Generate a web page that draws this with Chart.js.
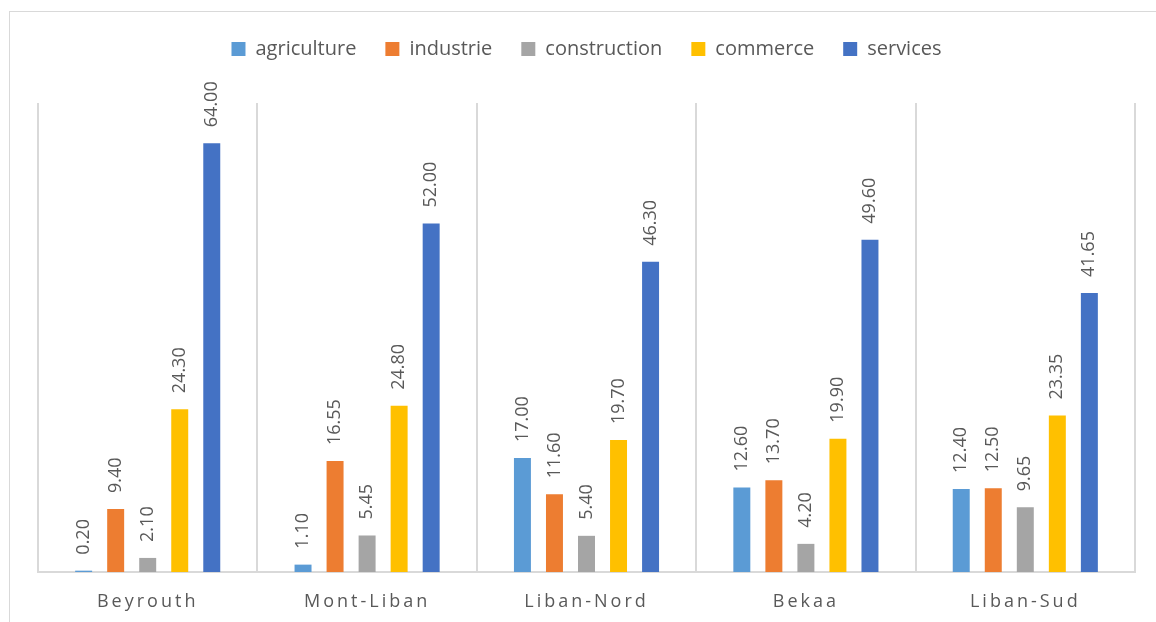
<!DOCTYPE html>
<html>
<head>
<meta charset="utf-8">
<script src="https://cdn.jsdelivr.net/npm/chart.js@4.4.0/dist/chart.umd.min.js"></script>
<style>
  html, body { margin: 0; padding: 0; background: #fff; overflow: hidden; }
  #frame { position: absolute; left: 9px; top: 11px; width: 1200px; height: 700px; border: 1px solid #d9d9d9; }
  #myChart { position: absolute; left: 0; top: 0; }
</style>
</head>
<body>
<div id="frame"></div>
<canvas id="myChart" width="1156" height="622"></canvas>
<script>
var regions = ['Beyrouth', 'Mont-Liban', 'Liban-Nord', 'Bekaa', 'Liban-Sud'];
var agriculture = [0.20, 1.10, 17.00, 12.60, 12.40];
var industrie = [9.40, 16.55, 11.60, 13.70, 12.50];
var construction = [2.10, 5.45, 5.40, 4.20, 9.65];
var commerce = [24.30, 24.80, 19.70, 19.90, 23.35];
var services = [64.00, 52.00, 46.30, 49.60, 41.65];
var yMin = 0;
var yMax = 70;

Chart.defaults.font.family = '"Open Sans", sans-serif';
Chart.defaults.color = '#595959';

// values above bars, rotated; also turns on letter spacing for the x labels drawn after
var valueLabels = {
  id: 'valueLabels',
  beforeLayout: function(chart) {
    // extra room under the legend
    var legend = chart.legend;
    if (legend && !legend._padded) {
      var fit = legend.fit;
      legend.fit = function() {
        fit.call(this);
        this.height += 34;
      };
      legend._padded = true;
    }
  },
  afterDatasetsDraw: function(chart) {
    var ctx = chart.ctx;
    ctx.save();
    ctx.font = '18px "Open Sans"';
    ctx.fillStyle = '#595959';
    ctx.textAlign = 'left';
    ctx.textBaseline = 'middle';
    chart.data.datasets.forEach(function(ds, i) {
      chart.getDatasetMeta(i).data.forEach(function(bar, j) {
        ctx.save();
        ctx.translate(bar.x, bar.y - 16);
        ctx.rotate(-Math.PI / 2);
        ctx.fillText(ds.data[j].toFixed(2), 0, 0);
        ctx.restore();
      });
    });
    ctx.restore();
    ctx.letterSpacing = '3px';
  },
  afterDraw: function(chart) {
    chart.ctx.letterSpacing = '0px';
  }
};

var ctx = document.getElementById('myChart');

var myChart = new Chart(ctx, {
  type: 'bar',
  data: {
    labels: regions,
    datasets: [
      { label: 'agriculture', data: agriculture, backgroundColor: '#5B9BD5' },
      { label: 'industrie', data: industrie, backgroundColor: '#ED7D31' },
      { label: 'construction', data: construction, backgroundColor: '#A5A5A5' },
      { label: 'commerce', data: commerce, backgroundColor: '#FFC000' },
      { label: 'services', data: services, backgroundColor: '#4472C4' }
    ]
  },
  options: {
    responsive: false,
    animation: false,
    categoryPercentage: 0.73,
    barPercentage: 0.53,
    layout: { padding: { left: 38, right: 21, top: 10, bottom: 0 } },
    plugins: {
      legend: {
        position: 'top',
        labels: { boxWidth: 14, boxHeight: 14, padding: 29, color: '#595959', font: { size: 20 } }
      },
      tooltip: { enabled: false }
    },
    scales: {
      x: {
        grid: { color: '#d9d9d9', lineWidth: 2, drawTicks: false, offset: true },
        border: { color: '#d9d9d9', width: 2 },
        ticks: { color: '#595959', font: { size: 18 }, padding: 19, z: 1 },
        afterFit: function(scale) { scale.height = 50; }
      },
      y: { display: false, min: yMin, max: yMax }
    }
  },
  plugins: [valueLabels]
});
</script>
</body>
</html>
